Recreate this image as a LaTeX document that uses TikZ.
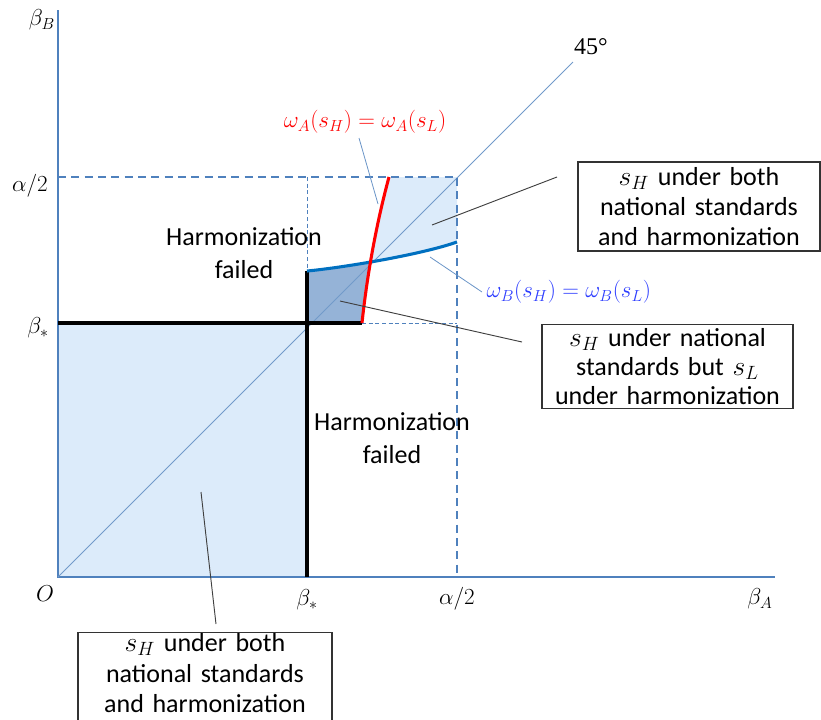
\documentclass[tikz,border=0pt]{standalone}
\usepackage{fontspec}
\setmainfont{Carlito}
\newfontfamily\serifmath{Liberation Serif}
\begin{document}
\begin{tikzpicture}[x=0.75pt,y=-0.75pt,
  axisline/.style={draw=axisblue,line width=0.9pt},
  bigdash/.style={draw=axisblue,line width=1.2pt,dash pattern=on 6pt off 4pt},
  smalldash/.style={draw=axisblue,line width=0.6pt,dash pattern=on 3pt off 2pt},
  thickblack/.style={draw=black,line width=2.3pt},
  pointer/.style={draw=black!75,line width=0.7pt},
  bpointer/.style={draw=axisblue!85,line width=0.6pt},
  infobox/.style={draw=black!80,line width=0.8pt,fill=white,align=center,inner sep=0pt},
  failtext/.style={align=center,font=\fontsize{19.5}{24.75}\selectfont},
  lab/.style={font=\fontsize{17}{20}\selectfont},
]
\definecolor{axisblue}{HTML}{4F81BD}
\definecolor{lightfill}{HTML}{DCEBFA}
\definecolor{darkfill}{HTML}{95B3D7}
\definecolor{curveblue}{HTML}{0070C0}
\definecolor{labblue}{HTML}{2B3BFF}
\useasboundingbox (0,0) rectangle (821,719);
\clip (0,0) rectangle (821,719);
% fills
\fill[lightfill] (58,323) rectangle (307,577);
\begin{scope}
  \clip (307,271) .. controls (340,268) and (420,255) .. (457,242) -- (457,330) -- (307,330) -- cycle;
  \fill[darkfill] (307,323) -- (362,323) .. controls (365,295) and (372,240) .. (389,177) -- (307,177) -- cycle;
\end{scope}
\begin{scope}
  \clip (307,271) .. controls (340,268) and (420,255) .. (457,242) -- (457,177) -- (307,177) -- cycle;
  \fill[lightfill] (362,323) .. controls (365,295) and (372,240) .. (389,177) -- (457,177) -- (457,323) -- cycle;
\end{scope}
% axes
\coordinate (O) at (58,577);
\coordinate (ytop) at (58,10);
\coordinate (xend) at (775,577);
\draw[axisline] (ytop) -- (O) -- (xend);
% 45 degree line
\coordinate (diagend) at (573,62);
\draw[draw=axisblue!80,line width=0.6pt] (O) -- (diagend);
% dashed lines
\draw[bigdash] (58,177) -- (457,177) -- (457,577);
\draw[smalldash] (307,177) -- (307,323);
\draw[smalldash] (362,323) -- (457,323);
% black lines
\draw[thickblack] (58,323) -- (362,323);
\draw[thickblack] (307,271) -- (307,577);
% curves
\draw[curveblue,line width=2.3pt] (307,271) .. controls (340,268) and (420,255) .. (457,242);
\draw[red,line width=2.3pt] (362,323) .. controls (365,295) and (372,240) .. (389,177);
% axis labels
\node[lab] (bB) at (42,20) {$\beta_B$};
\node[lab] (ay) at (30,186) {$\alpha/2$};
\node[lab] (bsy) at (38,328) {$\beta_*$};
\node[lab] (Olab) at (45,594) {$O$};
\node[lab] (bsx) at (307,600) {$\beta_*$};
\node[lab] (ax) at (457,599) {$\alpha/2$};
\node[lab] (bA) at (760,599) {$\beta_A$};
\node[font=\serifmath\fontsize{18}{20}\selectfont] (d45) at (591,47) {45°};
% failed labels
\node[failtext] (f1) at (244,253) {Harmonization\\failed};
\node[failtext] (f2) at (392,438) {Harmonization\\failed};
% omega labels
\node[lab,text=red] (wA) at (365,122) {$\omega_A(s_H)=\omega_A(s_L)$};
\coordinate (wAst) at (359,138);
\coordinate (wAend) at (378,204);
\draw[bpointer] (wAst) -- (wAend);
\node[lab,text=labblue,anchor=west,font=\fontsize{17.5}{20}\selectfont] (wB) at (482,292) {$\omega_B(s_H)=\omega_B(s_L)$};
\coordinate (wBst) at (430,257);
\draw[bpointer] (wBst) -- (wB.west);
% boxes
\node[infobox,font=\fontsize{19.5}{22.5}\selectfont,minimum width=242pt*0.75,minimum height=89pt*0.75,text width=240pt*0.75] (box1) at (699,206.5) {$s_H$ under both\\national standards\\and harmonization};
\node[infobox,font=\fontsize{19.5}{21.5}\selectfont,minimum width=251pt*0.75,minimum height=84pt*0.75,text width=249pt*0.75] (box2) at (667.5,366.5) {$s_H$ under national\\standards but $s_L$\\under harmonization};
\node[infobox,font=\fontsize{19.5}{23}\selectfont,minimum width=254pt*0.75,text width=252pt*0.75,anchor=north] (box3) at (205,632) {\rule{0pt}{14.25pt}$s_H$ under both\\national standards\\and harmonization\rule[-30pt]{0pt}{0pt}};
% pointers
\coordinate (p1) at (432,225);
\coordinate (p1e) at (557,177);
\draw[pointer] (p1) -- (p1e);
\coordinate (p2) at (340,301);
\coordinate (p2e) at (522,342);
\draw[pointer] (p2) -- (p2e);
\coordinate (p3) at (201,492);
\coordinate (p3e) at (216,624);
\draw[pointer] (p3) -- (p3e);
\end{tikzpicture}
\end{document}
